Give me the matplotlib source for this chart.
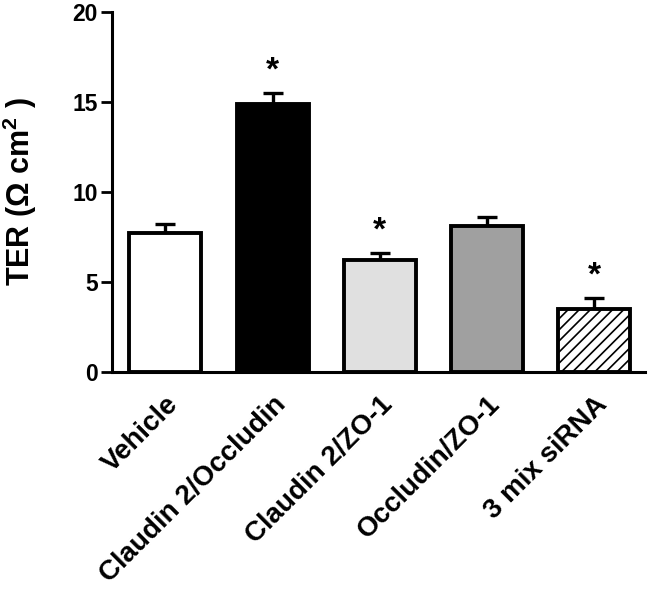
import matplotlib
matplotlib.use("Agg")
import matplotlib.pyplot as plt
import matplotlib.transforms as mtransforms
import numpy as np

categories = ["Vehicle", "Claudin 2/Occludin", "Claudin 2/ZO-1", "Occludin/ZO-1", "3 mix siRNA"]
values = [7.7, 14.9, 6.2, 8.1, 3.5]
errors = [0.5, 0.6, 0.4, 0.5, 0.6]
significant = [False, True, True, False, True]
fills = ["white", "black", "#e0e0e0", "#a0a0a0", "white"]
hatches = [None, None, None, None, "///"]
yticks = [0, 5, 10, 15, 20]

plt.rcParams['font.family'] = ['Liberation Sans', 'DejaVu Sans']
plt.rcParams['font.weight'] = 'bold'
plt.rcParams['mathtext.fontset'] = 'custom'
plt.rcParams['mathtext.rm'] = 'Liberation Sans:bold'
plt.rcParams['mathtext.it'] = 'Liberation Sans:bold'
plt.rcParams['mathtext.bf'] = 'Liberation Sans:bold'
plt.rcParams['hatch.linewidth'] = 1.2

fig = plt.figure(figsize=(6.5, 5.9), dpi=100)
ax = fig.add_axes([0.172, 0.3695, 0.82, 0.6105])

x = np.arange(len(categories))
for i in range(len(categories)):
    ax.bar(x[i], values[i], width=0.67, color=fills[i], edgecolor='black',
           linewidth=2.8, hatch=hatches[i], zorder=3)
ax.errorbar(x, values, yerr=[np.zeros(len(errors)), errors], fmt='none',
            ecolor='black', elinewidth=2.4, capsize=7, capthick=2.4, zorder=2)

for i in range(len(categories)):
    if significant[i]:
        ax.text(x[i], values[i] + errors[i] + 0.35, "*", ha='center', va='bottom',
                fontsize=24, fontweight='bold')

ax.set_xlim(-0.5, 4.47)
ax.set_ylim(0, 20)
ax.set_yticks(yticks)
ax.set_xticks(x)
ax.set_xticklabels(categories, rotation=45, ha='right', va='top', rotation_mode='anchor',
                   fontsize=20, fontweight='bold')
offset = mtransforms.ScaledTranslation(-3 / 100, 0, fig.dpi_scale_trans)
for lbl in ax.get_xticklabels():
    lbl.set_transform(lbl.get_transform() + offset)
ax.tick_params(axis='y', labelsize=16.5, width=2, length=8, pad=2)
ax.tick_params(axis='x', length=0, pad=14)
for lbl in ax.get_yticklabels():
    lbl.set_fontweight('bold')
ax.spines['top'].set_visible(False)
ax.spines['right'].set_visible(False)
ax.spines['left'].set_linewidth(2.2)
ax.spines['bottom'].set_linewidth(2.2)
ax.set_ylabel(r"TER ($\Omega$ cm$^2$ )", fontsize=22, fontweight='bold', labelpad=24)

fig.savefig("out.png", dpi=100)
